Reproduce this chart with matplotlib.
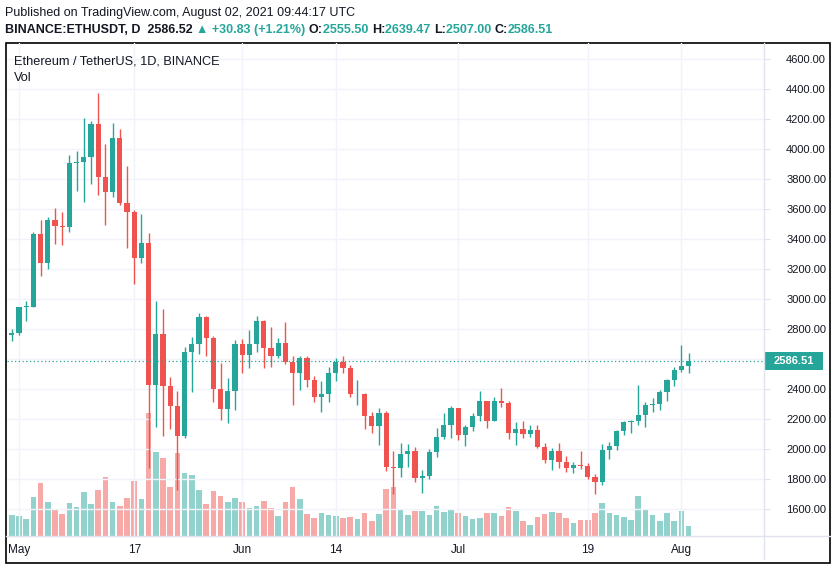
import numpy as np
import pandas as pd
import matplotlib
matplotlib.use("Agg")
import matplotlib.pyplot as plt
import matplotlib.dates as mdates
import matplotlib.transforms as mtransforms
from matplotlib.patches import Rectangle
from matplotlib.lines import Line2D

plt.rcParams['font.family'] = ['Liberation Sans', 'DejaVu Sans']

# ETHUSDT daily candles, Apr 30 - Aug 02 2021
dates = pd.date_range("2021-04-30", "2021-08-02", freq="D")
opens = [2757, 2772, 2945, 2949, 3431, 3240, 3524, 3490, 3483, 3905, 3912, 3945, 4170, 3815, 3712, 4075,
         3640, 3580, 3276, 3375, 2427, 2765, 2422, 2289, 2089, 2644, 2698, 2878, 2738, 2402, 2269, 2384,
         2698, 2624, 2700, 2856, 2676, 2620, 2704, 2582, 2504, 2604, 2460, 2349, 2364, 2504, 2578, 2538,
         2364, 2368, 2222, 2153, 2238, 1878, 1871, 1964, 1987, 1810, 1822, 1978, 2078, 2158,
         2271, 2093, 2144, 2220, 2320, 2187, 2320, 2309, 2104, 2131, 2100, 2124, 2016, 1927, 1987, 1911,
         1871, 1893, 1885, 1811, 1778, 1993, 2020, 2122, 2178, 2189, 2227, 2293, 2300, 2378, 2460,
         2527, 2555.50]
highs = [2800, 2950, 2984, 3450, 3530, 3545, 3607, 3580, 3960, 3989, 4209, 4190, 4376, 4033, 4171, 4133,
         3889, 3595, 3567, 3438, 2987, 2933, 2482, 2384, 2678, 2744, 2904, 2890, 2753, 2571, 2471, 2727,
         2736, 2796, 2887, 2860, 2811, 2740, 2844, 2620, 2620, 2620, 2484, 2456, 2544, 2604, 2620, 2560,
         2460, 2375, 2244, 2271, 2253, 1989, 2038, 2033, 2016, 1860, 2000, 2142, 2242, 2289,
         2275, 2158, 2237, 2387, 2322, 2349, 2409, 2320, 2182, 2184, 2162, 2162, 2040, 2004, 2042, 1955,
         1915, 1987, 1910, 1831, 2033, 2044, 2130, 2190, 2196, 2427, 2316, 2340, 2395, 2468, 2548,
         2693, 2639.47]
lows = [2722, 2760, 2852, 2944, 3156, 3200, 3369, 3360, 3447, 3720, 3644, 3767, 3693, 3493, 3682, 3627,
        3338, 3098, 3240, 1871, 2149, 2089, 2133, 1727, 2071, 2378, 2633, 2622, 2316, 2193, 2171, 2260,
        2509, 2538, 2649, 2538, 2549, 2609, 2570, 2293, 2393, 2411, 2316, 2249, 2311, 2456, 2504, 2349,
        2293, 2131, 2110, 2027, 1856, 1700, 1816, 1878, 1778, 1709, 1800, 1950, 2065, 2075,
        2060, 2018, 2118, 2185, 2142, 2185, 2282, 2069, 2027, 2073, 2080, 2004, 1909, 1860, 1871, 1850,
        1840, 1870, 1800, 1698, 1760, 1936, 1991, 2096, 2107, 2158, 2149, 2247, 2262, 2320, 2420,
        2515, 2507.00]
closes = [2772, 2945, 2949, 3431, 3240, 3524, 3490, 3483, 3905, 3912, 3945, 4170, 3815, 3712, 4075, 3640,
          3580, 3276, 3375, 2427, 2765, 2422, 2289, 2089, 2644, 2698, 2878, 2738, 2402, 2269, 2384, 2698,
          2624, 2700, 2856, 2676, 2620, 2704, 2582, 2504, 2604, 2460, 2349, 2364, 2504, 2578, 2538, 2364,
          2368, 2222, 2153, 2238, 1878, 1871, 1964, 1987, 1810, 1822, 1978, 2078, 2158, 2271,
          2093, 2144, 2220, 2320, 2187, 2320, 2309, 2104, 2131, 2100, 2124, 2016, 1927, 1987, 1911, 1871,
          1893, 1885, 1811, 1778, 1993, 2020, 2122, 2178, 2189, 2227, 2293, 2300, 2378, 2460, 2527,
          2555.50, 2586.51]
# volume, thousand ETH
volumes = [630, 600, 510, 1170, 1590, 1020, 810, 660, 990, 870, 1320, 960, 1380, 1770, 1020, 900,
           1140, 1650, 1110, 3690, 2520, 2340, 1470, 2490, 1890, 1830, 1380, 960, 1350, 1200, 1020, 1140,
           1020, 840, 900, 1050, 840, 600, 1020, 1470, 1110, 660, 540, 690, 630, 600, 540, 570,
           510, 690, 450, 660, 1410, 1470, 810, 630, 750, 750, 630, 900, 720, 810,
           690, 600, 510, 540, 690, 690, 600, 870, 750, 450, 330, 570, 660, 720, 690, 540,
           390, 480, 480, 690, 990, 690, 630, 570, 480, 1200, 810, 630, 450, 690, 450,
           750, 300]
last_price = 2586.51

tick_dates = ["2021-05-01", "2021-05-17", "2021-06-01", "2021-06-14", "2021-07-01", "2021-07-19", "2021-08-01"]
tick_labels = ["May", "17", "Jun", "14", "Jul", "19", "Aug"]
price_ticks = np.arange(1600, 4601, 200)

UP = '#26a69a'
DOWN = '#ef5350'
UP_VOL = '#92d2cc'
DOWN_VOL = '#f7a9a7'
GRID = '#f0f3fa'
SEP = '#e0e3eb'
TXT = '#131722'

W, H = 835, 570
fig = plt.figure(figsize=(W / 100, H / 100), dpi=100)

def fx(px):
    return px / W

def fy(py):
    return 1 - py / H

left, right, top, bottom = 7, 764, 43, 536
ax = fig.add_axes([fx(left), fy(bottom), fx(right - left), fy(top) - fy(bottom)])
vax = ax.twinx()
ax.set_zorder(vax.get_zorder() + 1)
ax.patch.set_visible(False)

x = mdates.date2num(dates)
o = np.array(opens, dtype=float)
h = np.array(highs, dtype=float)
l = np.array(lows, dtype=float)
c = np.array(closes, dtype=float)
up = c >= o
cols = np.where(up, UP, DOWN)

# volume
vax.bar(x, volumes, width=0.8, color=np.where(up, UP_VOL, DOWN_VOL), linewidth=0)
vax.set_ylim(0, 14790)
vax.set_yticks([])
for s in vax.spines.values():
    s.set_visible(False)

# candles
ax.vlines(x, l, h, colors=cols, linewidth=1.0)
body = np.maximum(np.abs(c - o), 6)
ax.bar(x, body, bottom=np.minimum(o, c), width=0.7, color=cols, linewidth=0)

x0 = mdates.date2num(pd.Timestamp("2021-05-01"))
ax.set_xlim(x0 - 1.667, x0 + 103.47)
ax.set_ylim(1420, 4706.7)

ax.set_xticks(mdates.date2num(pd.to_datetime(tick_dates)))
ax.set_xticklabels(tick_labels)
ax.set_yticks(price_ticks)
# the 2600 label is hidden behind the last-price tag
ax.set_yticklabels(["" if abs(p - last_price) < 60 else "%.2f" % p for p in price_ticks])
ax.yaxis.tick_right()
ax.tick_params(axis='y', direction='out', length=4, width=0.8, color=SEP,
               pad=12, labelsize=8, labelcolor=TXT)
ax.tick_params(axis='x', length=0, pad=6, labelsize=8.5, labelcolor=TXT)
ax.grid(True, color=GRID, linewidth=1)
ax.set_axisbelow(True)
for s in ax.spines.values():
    s.set_visible(False)

# last price line and label
ax.axhline(last_price, color=UP, linestyle=(0, (1, 2)), linewidth=0.9)
blend = mtransforms.blended_transform_factory(fig.transFigure, ax.transData)
ax.add_patch(Rectangle((fx(764), last_price - 9 / 0.15), fx(59), 18 / 0.15,
                       transform=blend, facecolor=UP, edgecolor='none', clip_on=False, zorder=5))
ax.text(fx(794), last_price, "%.2f" % last_price, transform=blend, color='white',
        fontsize=8, fontweight='bold', ha='center', va='center', zorder=6)

# separators and outer frame
fig.add_artist(Line2D([fx(764), fx(764)], [fy(43), fy(559)], color=SEP, linewidth=1))
fig.add_artist(Line2D([fx(6), fx(830)], [fy(536), fy(536)], color=SEP, linewidth=1))
fig.add_artist(Rectangle((fx(6), fy(563)), fx(824), fy(43) - fy(563), transform=fig.transFigure,
                         fill=False, edgecolor='black', linewidth=1.2))

# legend texts inside chart
fig.text(fx(14), fy(61), "Ethereum / TetherUS, 1D, BINANCE", fontsize=9.2, color=TXT, va='center')
fig.text(fx(14), fy(78), "Vol", fontsize=9.2, color=TXT, va='center')

# header
fig.text(fx(5), fy(13), "Published on TradingView.com, August 02, 2021 09:44:17 UTC",
         fontsize=9, color=TXT, va='center')
pieces = [("BINANCE:ETHUSDT, D  2586.52 ", TXT), ("\u25b2 +30.83 (+1.21%) ", UP),
          ("O:", TXT), ("2555.50 ", UP), ("H:", TXT), ("2639.47 ", UP),
          ("L:", TXT), ("2507.00 ", UP), ("C:", TXT), ("2586.51", UP)]
renderer = fig.canvas.get_renderer()
xp = 5
for txt, col in pieces:
    t = fig.text(fx(xp), fy(30), txt, fontsize=9, fontweight='bold', color=col, va='center')
    bb = t.get_window_extent(renderer=renderer)
    xp += bb.width

fig.savefig("out.png", dpi=100)
